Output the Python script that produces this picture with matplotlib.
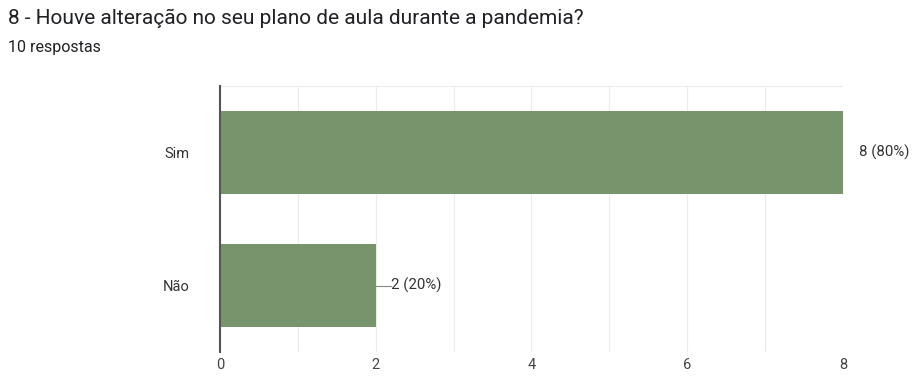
import matplotlib.pyplot as plt

categorias = ["Sim", "Não"]
valores = [8, 2]
percentuais = [80, 20]
ticks = [0, 2, 4, 6, 8]

plt.rcParams['font.family'] = ['Roboto', 'DejaVu Sans']

fig = plt.figure(figsize=(9.15, 3.77), dpi=100)
ax = fig.add_axes([0.2404, 0.0663, 0.6809, 0.7056])

cor = "#78946d"
y = list(range(len(categorias)))
ax.barh(y, valores, height=0.62, color=cor, zorder=3)

for yi, v, p in zip(y, valores, percentuais):
    ax.plot([v, v + 0.2], [yi, yi], color="#888888", lw=0.8, zorder=2)
    ax.text(v + 0.2, yi, f"{v} ({p}%)", va="center", ha="left",
            fontsize=10.8, color="#333333")

ax.set_ylim(1.5, -0.5)
ax.set_xlim(0, 8)
ax.set_yticks(y)
ax.set_yticklabels(categorias, fontsize=10.5, color="#333333")
ax.set_xticks(ticks)
ax.set_xticklabels([str(t) for t in ticks], fontsize=10.5, color="#444444")
ax.set_xticks(range(0, 9), minor=True)
ax.grid(axis="x", which="both", color="#ececec", lw=0.8, zorder=0)
ax.tick_params(which="both", length=0)
ax.tick_params(axis="x", pad=4)
ax.tick_params(axis="y", pad=22)
for s in ["top", "right", "bottom"]:
    ax.spines[s].set_visible(False)
ax.axhline(-0.5, color="#ececec", lw=0.8, zorder=0)
ax.axhline(1.5, color="#ececec", lw=0.8, zorder=0)
ax.spines["left"].set_color("#555555")
ax.spines["left"].set_linewidth(1.5)
ax.spines["left"].set_zorder(4)

fig.text(0.0087, 0.952, "8 - Houve alteração no seu plano de aula durante a pandemia?",
         fontsize=15, color="#202124", va="center")
fig.text(0.0087, 0.875, "10 respostas", fontsize=11.5, color="#202124", va="center")

fig.savefig("out.png", dpi=100)
